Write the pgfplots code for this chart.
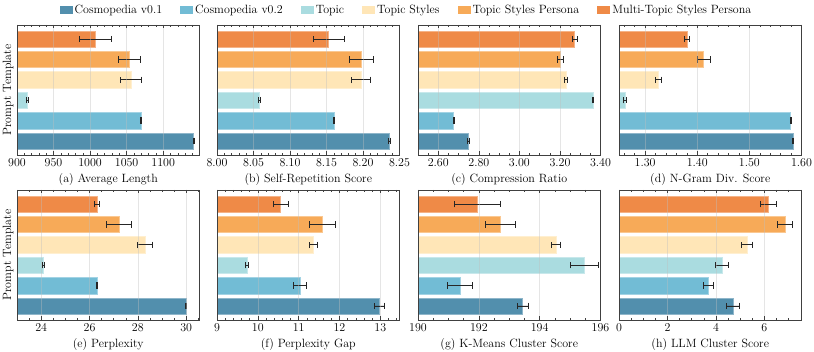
\documentclass[border=0pt]{standalone}
\usepackage{pgfplots}
\pgfplotsset{compat=1.18}
\definecolor{c1}{HTML}{528FAD}
\definecolor{c2}{HTML}{72BCD5}
\definecolor{c3}{HTML}{AADCE0}
\definecolor{c4}{HTML}{FFE6B7}
\definecolor{c5}{HTML}{F7AA58}
\definecolor{c6}{HTML}{EF8A47}
\newcommand\tfont{\fontsize{11.5}{13}\selectfont}
\newcommand\lfont{\fontsize{12}{14}\selectfont}
\pgfplotsset{
  panel/.style={
    scale only axis, width=182.5pt, height=130pt, anchor=south west,
    xbar, bar width=0.8,
    ymin=-0.69, ymax=5.69, ytick=\empty,
    axis line style={black!75, line width=0.7pt},
    tick align=inside, xtick pos=both,
    major tick length=3.5pt, minor tick length=2pt,
    every tick/.style={black!75, line width=0.5pt},
    xmajorgrids, major grid style={black!25, opacity=0.4, line width=0.4pt},
    axis on top,
    scaled x ticks=false,
    /pgf/number format/1000 sep={},
    tick label style={font=\tfont},
    label style={font=\lfont},
  },
  twod/.style={xticklabel style={/pgf/number format/.cd, fixed, fixed zerofill, precision=2}},
  eb/.style={error bars/.cd, x dir=both, x explicit,
    error bar style={line width=0.8pt, black!85},
    error mark options={line width=0.8pt, black!85, mark size=3.2pt, rotate=90}},
}
\newcommand\hb[4]{\addplot[fill=#1, draw=#1!65!white, line width=0.4pt, bar shift=0pt, eb] coordinates {(#2,#4) +- (#3,0)};}
\begin{document}
\begin{tikzpicture}
\path[use as bounding box] (0pt,0pt) rectangle (814pt,352pt);
% (a)
\begin{axis}[panel, at={(17pt,197pt)}, xmin=900, xmax=1149.7,
  xtick={900,950,...,1100}, minor xtick={900,910,...,1150},
  xlabel={(a) Average Length}, ylabel={Prompt Template},
  legend columns=6,
  legend style={draw=none, fill=none, font=\lfont, at={(2.134,1.115)}, anchor=center,
    /tikz/every even column/.append style={column sep=16pt}},
  legend image code/.code={\draw[#1, draw=none] (0pt,-4pt) rectangle (13pt,4pt);}]
\hb{c1}{1141.6}{0.6}{0}
\hb{c2}{1070}{0.6}{1}
\hb{c3}{914}{1.6}{2}
\hb{c4}{1056}{14}{3}
\hb{c5}{1054}{15}{4}
\hb{c6}{1007.5}{21.5}{5}
\legend{Cosmopedia v0.1, Cosmopedia v0.2, Topic, Topic Styles, Topic Styles Persona, Multi-Topic Styles Persona}
\end{axis}
% (b)
\begin{axis}[panel, twod, at={(217pt,197pt)}, xmin=8.0, xmax=8.25,
  xtick={8.00,8.05,...,8.26}, minor xtick={8.00,8.01,...,8.25},
  xlabel={(b) Self-Repetition Score}]
\hb{c1}{8.236}{0.0012}{0}
\hb{c2}{8.160}{0.0012}{1}
\hb{c3}{8.058}{0.0018}{2}
\hb{c4}{8.197}{0.013}{3}
\hb{c5}{8.198}{0.016}{4}
\hb{c6}{8.153}{0.021}{5}
\end{axis}
% (c)
\begin{axis}[panel, twod, at={(418pt,197pt)}, xmin=2.5, xmax=3.4,
  xtick={2.6,2.8,3.0,3.2,3.4}, minor xtick={2.5,2.55,...,3.41},
  xlabel={(c) Compression Ratio}]
\hb{c1}{2.749}{0.003}{0}
\hb{c2}{2.676}{0.003}{1}
\hb{c3}{3.362}{0.003}{2}
\hb{c4}{3.231}{0.007}{3}
\hb{c5}{3.201}{0.015}{4}
\hb{c6}{3.272}{0.012}{5}
\end{axis}
% (d)
\begin{axis}[panel, twod, at={(619pt,197pt)}, xmin=1.25, xmax=1.60,
  xtick={1.3,1.4,1.5,1.6}, minor xtick={1.26,1.28,...,1.6},
  xlabel={(d) N-Gram Div. Score}]
\hb{c1}{1.584}{0.001}{0}
\hb{c2}{1.579}{0.001}{1}
\hb{c3}{1.261}{0.003}{2}
\hb{c4}{1.325}{0.0057}{3}
\hb{c5}{1.412}{0.0124}{4}
\hb{c6}{1.380}{0.0048}{5}
\end{axis}
% (e)
\begin{axis}[panel, at={(17pt,32pt)}, xmin=23, xmax=30.55,
  xtick={24,26,28,30}, minor xtick={23,23.5,...,30.5},
  xlabel={(e) Perplexity}, ylabel={Prompt Template}]
\hb{c1}{29.99}{0.03}{0}
\hb{c2}{26.31}{0.02}{1}
\hb{c3}{24.10}{0.05}{2}
\hb{c4}{28.30}{0.32}{3}
\hb{c5}{27.22}{0.52}{4}
\hb{c6}{26.30}{0.11}{5}
\end{axis}
% (f)
\begin{axis}[panel, at={(217pt,32pt)}, xmin=9, xmax=13.47,
  xtick={9,10,11,12,13}, minor xtick={9,9.2,...,13.41},
  xlabel={(f) Perplexity Gap}]
\hb{c1}{12.97}{0.12}{0}
\hb{c2}{11.03}{0.15}{1}
\hb{c3}{9.73}{0.037}{2}
\hb{c4}{11.36}{0.09}{3}
\hb{c5}{11.58}{0.32}{4}
\hb{c6}{10.56}{0.18}{5}
\end{axis}
% (g)
\begin{axis}[panel, at={(418pt,32pt)}, xmin=190, xmax=196,
  xtick={190,192,194,196}, minor xtick={190,190.5,...,196},
  xlabel={(g) K-Means Cluster Score}]
\hb{c1}{193.44}{0.18}{0}
\hb{c2}{191.38}{0.41}{1}
\hb{c3}{195.47}{0.45}{2}
\hb{c4}{194.53}{0.15}{3}
\hb{c5}{192.71}{0.5}{4}
\hb{c6}{191.95}{0.75}{5}
\end{axis}
% (h)
\begin{axis}[panel, at={(619pt,32pt)}, xmin=0, xmax=7.53,
  xtick={0,2,4,6}, minor xtick={0,0.5,...,7.5},
  xlabel={(h) LLM Cluster Score}]
\hb{c1}{4.70}{0.25}{0}
\hb{c2}{3.69}{0.19}{1}
\hb{c3}{4.24}{0.26}{2}
\hb{c4}{5.27}{0.23}{3}
\hb{c5}{6.84}{0.32}{4}
\hb{c6}{6.16}{0.34}{5}
\end{axis}
\end{tikzpicture}
\end{document}
